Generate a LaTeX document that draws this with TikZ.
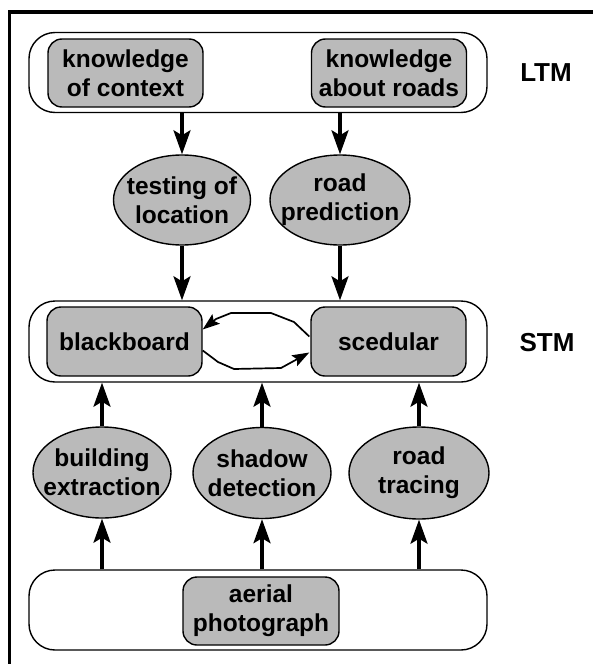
\documentclass[tikz,border=0pt]{standalone}
\usepackage{fontspec}
\setmainfont{Liberation Sans}
\usetikzlibrary{arrows.meta,shapes.geometric,calc}
\definecolor{dots}{gray}{0.73}
\begin{document}
\begin{tikzpicture}[x=1pt,y=-1pt,
  every node/.style={font=\fontsize{24.5}{29}\selectfont\bfseries, align=center, inner sep=0pt},
  memlayer/.style={draw, line width=1.4pt, rounded corners=26pt, minimum width=458pt, minimum height=80pt},
  knowbox/.style={draw, line width=1.4pt, rounded corners=14pt, fill=dots, minimum width=155pt, minimum height=68pt},
  procell/.style={draw, ellipse, line width=1.4pt, fill=dots, minimum width=138pt, minimum height=91pt,
    label={center:#1}},
  flowarrow/.style={line width=3.2pt, -{Stealth[length=24pt,width=17pt,inset=5pt]}},
  cyclearrow/.style={line width=1.7pt, line join=round, -{Stealth[length=17pt,width=12pt,inset=3pt]}},
  memtag/.style={font=\fontsize{26}{30}\selectfont\bfseries}
]
\useasboundingbox (0,0) rectangle (592,664);

% outer frame (only its top and left edges fall inside the page)
\draw[line width=3.5pt] (9.5,700) -- (9.5,12) -- (640,12);

% long-term memory
\node[memlayer] (ltm) at (258,72.5) {};
\node[knowbox] (kctx) at (125.5,73) {knowledge\\of context};
\node[knowbox] (kroad) at (389,73) {knowledge\\about roads};
\node[memtag] (ltmtag) at (546,73) {LTM};

% inference processes
\node[procell={testing of\\location}, minimum width=137pt, minimum height=90pt] (test) at (182,200) {};
\node[procell={road\\prediction}, minimum width=140pt, minimum height=90pt] (pred) at (340,200) {};

% short-term memory
\node[memlayer, minimum height=81pt] (stm) at (258,341.5) {};
\node[knowbox, minimum height=69pt] (bb) at (124.5,341.5) {blackboard};
\node[knowbox, minimum height=69pt] (sc) at (388.5,341.5) {scedular};
\node[memtag] (stmtag) at (547,343) {STM};

% image-analysis processes
\node[procell={building\\extraction}] (build) at (102,472.5) {};
\node[procell={shadow\\detection}] (shadow) at (262,473) {};
\node[procell={road\\tracing}, minimum width=140pt, minimum height=92pt] (rtrace) at (419,473) {};

% image data
\node[memlayer] (img) at (258,610) {};
\node[knowbox, minimum width=156pt] (aerial) at (261,611) {aerial\\photograph};

% flows from LTM through the inference processes into STM
\draw[flowarrow] (ltm.south -| test.north) -- (test.north);
\draw[flowarrow] (ltm.south -| pred.north) -- (pred.north);
\draw[flowarrow] (test.south) -- (test.south |- stm.north);
\draw[flowarrow] (pred.south) -- (pred.south |- stm.north);

% flows from the image through the analysis processes into STM
\draw[flowarrow] (img.north -| build.south) -- (build.south);
\draw[flowarrow] (img.north -| shadow.south) -- (shadow.south);
\draw[flowarrow] (img.north -| rtrace.south) -- (rtrace.south);
\draw[flowarrow] (build.north) -- (build.north |- stm.south);
\draw[flowarrow] (shadow.north) -- (shadow.north |- stm.south);
\draw[flowarrow] (rtrace.north) -- (rtrace.north |- stm.south);

% exchange between blackboard and scedular
\draw[cyclearrow] ($(sc.west)+(-1,-5)$) -- (294,322) -- (271,313) -- (231,313) -- (216,319) -- ($(bb.east)+(0,-12)$);
\draw[cyclearrow] ($(bb.east)+(0,9)$) -- (218,362) -- (234,369) -- (281,368) -- ($(sc.west)+(-1,11)$);
\end{tikzpicture}
\end{document}
